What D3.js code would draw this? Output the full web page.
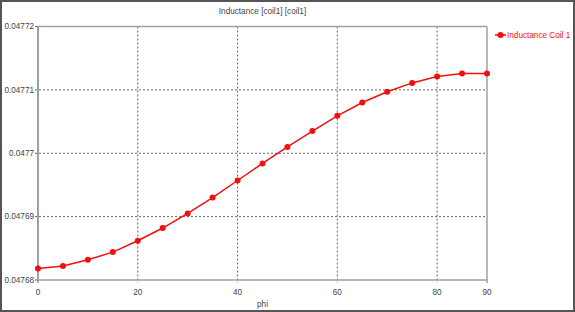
<!DOCTYPE html>
<html><head><meta charset="utf-8">
<script src="https://cdn.jsdelivr.net/npm/d3@7"></script>
<style>body{margin:0;background:#fff}svg{display:block}</style>
</head><body>
<svg id="c" width="575" height="312"></svg>
<script>
const phi = [0,5,10,15,20,25,30,35,40,45,50,55,60,65,70,75,80,85,90];
const inductance = [0.0476818,0.0476822,0.0476832,0.0476844,0.0476862,0.0476882,0.0476905,0.0476930,0.0476957,0.0476984,0.0477010,0.0477035,0.0477059,0.0477080,0.0477097,0.0477111,0.0477121,0.0477126,0.0477126];
const xTicks = [0,20,40,60,80,90];
const yTicks = [0.04768,0.04769,0.0477,0.04771,0.04772];
const yTickLabels = ["0.04768","0.04769","0.0477","0.04771","0.04772"];
const title = "Inductance [coil1] [coil1]";
const xLabel = "phi";
const seriesName = "Inductance Coil 1";

const svg = d3.select("#c");
const W=575,H=312;
const m={l:38,r:487,t:26.5,b:280};
const x=d3.scaleLinear().domain([0,90]).range([m.l,m.r]);
const y=d3.scaleLinear().domain([0.04768,0.04772]).range([m.b,m.t]);
const font="'Liberation Sans', Arial, sans-serif";
const fs=8.2;
const red="#f01010";

svg.append("rect").attr("x",1).attr("y",1).attr("width",W-2).attr("height",H-2)
  .attr("fill","#fff").attr("stroke","#555").attr("stroke-width",2);

// grid
svg.append("g").selectAll("line").data(xTicks.filter(d=>d>0&&d<90)).join("line")
  .attr("x1",d=>x(d)).attr("x2",d=>x(d)).attr("y1",m.t).attr("y2",m.b+3)
  .attr("stroke","#666").attr("stroke-width",1).attr("stroke-dasharray","2,2");
svg.append("g").selectAll("line").data(yTicks.filter((d,i)=>i>0&&i<yTicks.length-1)).join("line")
  .attr("x1",m.l-3).attr("x2",m.r).attr("y1",d=>y(d)).attr("y2",d=>y(d))
  .attr("stroke","#666").attr("stroke-width",1).attr("stroke-dasharray","2,2");
svg.append("g").selectAll("line").data([yTicks[0],yTicks[yTicks.length-1]]).join("line")
  .attr("x1",m.l-3).attr("x2",m.l).attr("y1",d=>y(d)).attr("y2",d=>y(d)).attr("stroke","#666");
svg.append("g").selectAll("line").data([xTicks[0],xTicks[xTicks.length-1]]).join("line")
  .attr("x1",d=>x(d)).attr("x2",d=>x(d)).attr("y1",m.b).attr("y2",m.b+3).attr("stroke","#666");

// frame
svg.append("line").attr("x1",m.l).attr("x2",m.r).attr("y1",m.t).attr("y2",m.t).attr("stroke","#a0a0a0").attr("stroke-width",1.5);
svg.append("line").attr("x1",m.r).attr("x2",m.r).attr("y1",m.t).attr("y2",m.b).attr("stroke","#a0a0a0").attr("stroke-width",1.5);
svg.append("line").attr("x1",m.l).attr("x2",m.r).attr("y1",m.b).attr("y2",m.b).attr("stroke","#a0a0a0").attr("stroke-width",1.5);
svg.append("line").attr("x1",m.l).attr("x2",m.l).attr("y1",m.t).attr("y2",m.b).attr("stroke","#a0a0a0").attr("stroke-width",2);

// tick labels
svg.append("g").selectAll("text").data(yTicks).join("text")
  .attr("x",m.l-4).attr("y",d=>y(d)).attr("dy","0.35em").attr("text-anchor","end")
  .attr("font-family",font).attr("font-size",fs).attr("fill","#444")
  .text((d,i)=>yTickLabels[i]);
svg.append("g").selectAll("text").data(xTicks).join("text")
  .attr("x",d=>x(d)).attr("y",m.b+15).attr("text-anchor","middle")
  .attr("font-family",font).attr("font-size",fs).attr("fill","#444").text(d=>d);
svg.append("text").attr("x",(m.l+m.r)/2).attr("y",307).attr("text-anchor","middle")
  .attr("font-family",font).attr("font-size",fs).attr("fill","#444").text(xLabel);
svg.append("text").attr("x",(m.l+m.r)/2).attr("y",14).attr("text-anchor","middle")
  .attr("font-family",font).attr("font-size",fs).attr("fill","#444").text(title);

// series
const data=phi.map((p,i)=>({p,v:inductance[i]}));
svg.append("path").datum(data).attr("fill","none").attr("stroke",red).attr("stroke-width",1.5)
  .attr("d",d3.line().x(d=>x(d.p)).y(d=>y(d.v)));
svg.append("g").selectAll("circle").data(data).join("circle")
  .attr("cx",d=>x(d.p)).attr("cy",d=>y(d.v)).attr("r",3).attr("fill",red);

// legend
const lg=svg.append("g").attr("transform","translate(495,35)");
lg.append("line").attr("x1",0).attr("x2",11).attr("stroke",red).attr("stroke-width",1.5);
lg.append("circle").attr("cx",5.5).attr("r",3).attr("fill",red);
lg.append("text").attr("x",12).attr("dy","0.35em").attr("font-family",font).attr("font-size",fs)
  .attr("fill",red).text(seriesName);
</script>
</body></html>
